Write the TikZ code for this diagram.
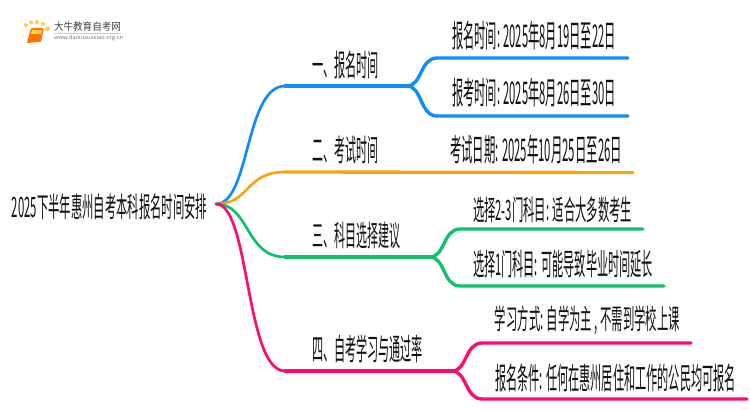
\documentclass[tikz,border=0pt]{standalone}
\usepackage{fontspec}
\usepackage{graphicx}
\setmainfont{Noto Sans CJK SC}
\definecolor{cblue}{HTML}{0F8BFF}
\definecolor{corange}{HTML}{F5A50F}
\definecolor{cgreen}{HTML}{0CC26C}
\definecolor{cpink}{HTML}{FF0A70}
\definecolor{ctext}{HTML}{111111}
\newcommand{\fitbox}[3]{\resizebox*{#1\dimexpr0.75pt\relax}{#2\dimexpr0.75pt\relax}{#3}}
\tikzset{
  lbl/.style={inner sep=0pt,outer sep=0pt,text=ctext},
  conn/.style={line width=2.5pt,line cap=round,line join=round},
  thinconn/.style={line width=2pt,line cap=round},
  spark/.style={fill=#1,draw=none}
}
\begin{document}
\begin{tikzpicture}[x=0.75pt,y=-0.75pt]
\useasboundingbox (0,0) rectangle (750,410);
% logo
\fill[spark=orange!55!yellow!70] (26,25) circle (2);
\fill[spark=orange!55!yellow!70] (31,22.5) circle (2);
\fill[spark=orange!55!yellow!70] (37,22) circle (2);
\fill[spark=orange!55!yellow!70] (43,24) circle (2);
\fill[spark=orange!55!yellow!70] (47.5,29) circle (2.4);
\fill[spark=orange!30!yellow!40] (22.5,30.5) circle (1.5);
\fill[spark=orange!30!yellow!40] (23,36) circle (1.3);
\fill[spark=orange!20!yellow!25] (23.5,42) circle (1.1);
\fill[orange!90!red,rounded corners=1pt] (31,28) -- (44,28) -- (41,41.5) -- (27,42.5) -- cycle;
\fill[orange!50!yellow!70] (32,30) -- (42,30) -- (41,34) -- (31,34) -- cycle;
\draw[orange!80!red,line width=0.5pt] (27,42.5) -- (41,41.5);
\node[lbl,text=black!75] (logotitle) at (87.5,27) {\fitbox{67}{9.5}{大牛教育自考网}};
\coordinate (rulea) at (54,33.5);
\coordinate (ruleb) at (121,33.5);
\draw[black!20,line width=0.5pt] (rulea) -- (ruleb);
\node[lbl,text=black!55] (logourl) at (88.5,38.5) {\fitbox{69}{5.5}{www.daniuxuexiao.org.cn}};
% coordinates
\coordinate (root) at (216,204);
\coordinate (b1) at (285,86);   \coordinate (b1s) at (407,86);
\coordinate (b1a) at (437,58);  \coordinate (b1ae) at (628,58);
\coordinate (b1b) at (437,116); \coordinate (b1be) at (628,116);
\coordinate (b2) at (285,172);  \coordinate (b2e) at (633,172.5);
\coordinate (b3) at (285,257);  \coordinate (b3s) at (430,257);
\coordinate (b3a) at (460,229); \coordinate (b3ae) at (643,229);
\coordinate (b3b) at (460,286); \coordinate (b3be) at (664,286);
\coordinate (b4) at (285,371);  \coordinate (b4s) at (452,371);
\coordinate (b4a) at (482,343); \coordinate (b4ae) at (691,343);
\coordinate (b4b) at (482,399); \coordinate (b4be) at (747,399);
% connectors
\draw[thinconn,cblue] (root) .. controls (250,204) and (245,86) .. (b1);
\draw[conn,cblue] (b1) -- (b1s);
\draw[conn,cblue] (b1s) .. controls (422,86) and (420,58) .. (b1a) -- (b1ae);
\draw[conn,cblue] (b1s) .. controls (422,86) and (420,116) .. (b1b) -- (b1be);
\draw[thinconn,corange] (root) .. controls (250,204) and (245,172) .. (b2);
\draw[conn,corange] (b2) -- (b2e);
\draw[thinconn,cgreen] (root) .. controls (250,204) and (245,257) .. (b3);
\draw[conn,cgreen] (b3) -- (b3s);
\draw[conn,cgreen] (b3s) .. controls (445,257) and (443,229) .. (b3a) -- (b3ae);
\draw[conn,cgreen] (b3s) .. controls (445,257) and (443,286) .. (b3b) -- (b3be);
\draw[thinconn,cpink] (root) .. controls (250,204) and (245,371) .. (b4);
\draw[conn,cpink] (b4) -- (b4s);
\draw[conn,cpink] (b4s) .. controls (467,371) and (465,343) .. (b4a) -- (b4ae);
\draw[conn,cpink] (b4s) .. controls (467,371) and (465,399) .. (b4b) -- (b4be);
% labels
\node[lbl] (rootlabel) at (109.5,207) {\fitbox{195}{26}{2025下半年惠州自考本科报名时间安排}};
\node[lbl] (n1) at (345.5,65) {\fitbox{67}{28}{一、报名时间}};
\node[lbl] (n2) at (345,150) {\fitbox{66}{28}{二、考试时间}};
\node[lbl] (n3) at (356,236) {\fitbox{88}{27}{三、科目选择建议}};
\node[lbl] (n4) at (367.5,349) {\fitbox{111}{28}{四、自考学习与通过率}};
\node[lbl] (l1) at (534,36) {\fitbox{164}{29}{报名时间: 2025年8月19日至22日}};
\node[lbl] (l2) at (534,93) {\fitbox{164}{29}{报考时间: 2025年8月26日至30日}};
\node[lbl] (l3) at (536,150) {\fitbox{172}{29}{考试日期: 2025年10月25日至26日}};
\node[lbl] (l4) at (552.5,210) {\fitbox{159}{26}{选择2-3门科目: 适合大多数考生}};
\node[lbl] (l5) at (563,264) {\fitbox{180}{28}{选择1门科目: 可能导致毕业时间延长}};
\node[lbl] (l6) at (587.5,320) {\fitbox{185}{29}{学习方式: 自学为主 , 不需到学校上课}};
\node[lbl] (l7) at (615.5,378.5) {\fitbox{241}{28}{报名条件: 任何在惠州居住和工作的公民均可报名}};
\end{tikzpicture}
\end{document}
